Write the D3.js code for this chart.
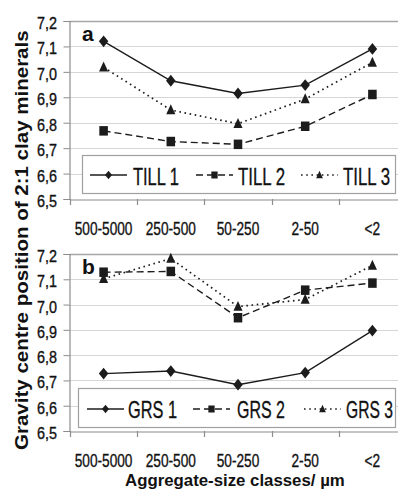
<!DOCTYPE html>
<html><head><meta charset="utf-8">
<script src="https://cdn.jsdelivr.net/npm/d3@7"></script>
<style>html,body{margin:0;padding:0;background:#fff;}svg{display:block;}</style>
</head><body>
<script>
const categories = ["500-5000", "250-500", "50-250", "2-50", "<2"];
const yTicks = [6.5, 6.6, 6.7, 6.8, 6.9, 7.0, 7.1, 7.2];
const yTickLabels = ["6,5", "6,6", "6,7", "6,8", "6,9", "7,0", "7,1", "7,2"];
const till1 = [7.12, 6.965, 6.915, 6.948, 7.09];
const till2 = [6.768, 6.726, 6.715, 6.786, 6.911];
const till3 = [7.018, 6.85, 6.796, 6.893, 7.037];
const grs1 = [6.727, 6.737, 6.683, 6.731, 6.897];
const grs2 = [7.128, 7.131, 6.948, 7.057, 7.085];
const grs3 = [7.102, 7.182, 6.992, 7.02, 7.155];
const seriesNamesA = ["TILL 1", "TILL 2", "TILL 3"];
const seriesNamesB = ["GRS 1", "GRS 2", "GRS 3"];
const panelLabels = ["a", "b"];
const yTitle = "Gravity centre position of 2:1 clay minerals";
const xTitle = "Aggregate-size classes/ µm";

const W = 398, H = 490;
const svg = d3.select("body").append("svg").attr("width", W).attr("height", H);
const FONT = "'Liberation Sans', Arial, sans-serif";
const INK = "#1c1c1c";

// draws text horizontally condensed via a scale transform
function txt(g, str, x, y, size, weight, k, anchor, len) {
  const grp = g.append("g");
  const t = grp.append("text").text(str)
    .attr("font-family", FONT).attr("font-size", size).attr("font-weight", weight)
    .attr("fill", "#111").attr("x", 0).attr("y", 0);
  if (weight === "normal") t.attr("stroke", "#111").attr("stroke-width", 0.35);
  const w = t.node().getComputedTextLength();
  const L = len != null ? len : w * k;
  const sx = L / w;
  let x0 = x;
  if (anchor === "middle") x0 = x - L / 2;
  else if (anchor === "end") x0 = x - L;
  grp.attr("transform", `translate(${x0},${y}) scale(${sx},1)`);
  return grp;
}

const styles = [
  { dash: null, sym: "diamond" },
  { dash: "7,4", sym: "square" },
  { dash: "1.6,3.6", sym: "triangle" }
];

function marker(g, type, x, y, s) {
  let p;
  if (type === "diamond") {
    p = `M${x},${y - s * 0.62}L${x + s * 0.5},${y}L${x},${y + s * 0.62}L${x - s * 0.5},${y}Z`;
  } else if (type === "square") {
    p = `M${x - s * 0.45},${y - s * 0.5}h${s * 0.9}v${s}h${-s * 0.9}Z`;
  } else {
    p = `M${x},${y - s * 0.6}L${x + s * 0.48},${y + s * 0.45}L${x - s * 0.48},${y + s * 0.45}Z`;
  }
  g.append("path").attr("d", p).attr("fill", INK);
}

function panel(cfg) {
  const g = svg.append("g");
  const x = d3.scaleBand().domain(categories).range([70, 406]).paddingInner(0).paddingOuter(0);
  const y = d3.scaleLinear().domain([6.5, 7.2]).range([cfg.bottom, cfg.top]);

  yTicks.forEach((v, i) => {
    if (v === 6.5) return;
    g.append("line").attr("x1", 69.5).attr("x2", W).attr("y1", Math.round(y(v)) + 0.5).attr("y2", Math.round(y(v)) + 0.5)
      .attr("stroke", v === 7.2 ? "#a6a6a6" : "#d6d6d6").attr("stroke-width", v === 7.2 ? 1.4 : 1.2);
  });

  const ya = g.append("g").attr("transform", "translate(69.5,0)")
    .call(d3.axisLeft(y).tickValues(yTicks).tickSize(6).tickFormat(""));
  ya.select(".domain").attr("stroke", "#8c8c8c").attr("stroke-width", 1.2);
  ya.selectAll(".tick line").attr("stroke", "#8c8c8c");
  ya.selectAll(".tick text").remove();
  yTicks.forEach((v, i) => {
    txt(g, yTickLabels[i], 57, y(v) + 8, 16.5, "normal", 0.87, "end");
  });

  const xa = g.append("g").attr("transform", `translate(0,${Math.round(y(6.5)) + 0.5})`)
    .call(d3.axisBottom(x).tickSize(0).tickFormat(""));
  xa.select(".domain").attr("stroke", "#8c8c8c").attr("stroke-width", 1.2);
  categories.forEach(c => {
    const bx = Math.round(x(c)) + 0.5;
    g.append("line").attr("x1", bx).attr("x2", bx).attr("y1", y(6.5)).attr("y2", y(6.5) + 6)
      .attr("stroke", "#8c8c8c").attr("stroke-width", 1.2);
    txt(g, c, x(c) + x.bandwidth() / 2, y(6.5) + 35.5, 19, "normal", 0.72, "middle");
  });

  const lg = cfg.legend;
  g.append("rect").attr("x", lg.x + 0.5).attr("y", lg.y + 0.5).attr("width", lg.w).attr("height", lg.h)
    .attr("fill", "#fff").attr("stroke", "#a0a0a0").attr("stroke-width", 1.2);

  const line = d3.line().x((d, i) => x(categories[i]) + x.bandwidth() / 2).y(d => y(d));
  cfg.series.forEach((s, si) => {
    const st = styles[si];
    g.append("path").datum(s).attr("d", line).attr("fill", "none").attr("stroke", INK)
      .attr("stroke-width", si === 2 ? 1.7 : 1.4).attr("stroke-dasharray", st.dash);
    s.forEach((v, i) => marker(g, st.sym, x(categories[i]) + x.bandwidth() / 2, y(v), 9.5));
  });

  cfg.names.forEach((n, si) => {
    const st = styles[si];
    const lx = lg.items[si][0], tx = lg.items[si][1];
    g.append("line").attr("x1", lx).attr("x2", lx + 37).attr("y1", lg.cy).attr("y2", lg.cy)
      .attr("stroke", INK).attr("stroke-width", si === 2 ? 1.6 : 1.3).attr("stroke-dasharray", st.dash);
    marker(g, st.sym, lx + 18.5, lg.cy, 7);
    txt(g, n, tx, lg.base, 24, "normal", 0.68, "start", lg.lens[si]);
  });

  txt(g, cfg.label, 82, cfg.labelBase, 21, "bold", 1, "start");
}

panel({
  top: 21, bottom: 199, series: [till1, till2, till3], names: seriesNamesA, label: panelLabels[0], labelBase: 40.5,
  legend: { x: 82, y: 155, w: 313, h: 38, cy: 175, base: 184.5, items: [[90, 133], [196, 238], [301, 343]], lens: [46, 47, 47] }
});
panel({
  top: 254, bottom: 431, series: [grs1, grs2, grs3], names: seriesNamesB, label: panelLabels[1], labelBase: 273.5,
  legend: { x: 78, y: 388, w: 317, h: 39, cy: 409, base: 417.5, items: [[87, 128], [193, 237], [304, 346]], lens: [49, 48, 47] }
});

const yt = svg.append("g").attr("transform", "translate(28,240) rotate(-90)");
txt(yt, yTitle, 0, 0, 17.5, "bold", 1, "middle", 420);
txt(svg, xTitle, 235, 486, 16.5, "bold", 1, "middle", 220);
</script>
</body></html>
